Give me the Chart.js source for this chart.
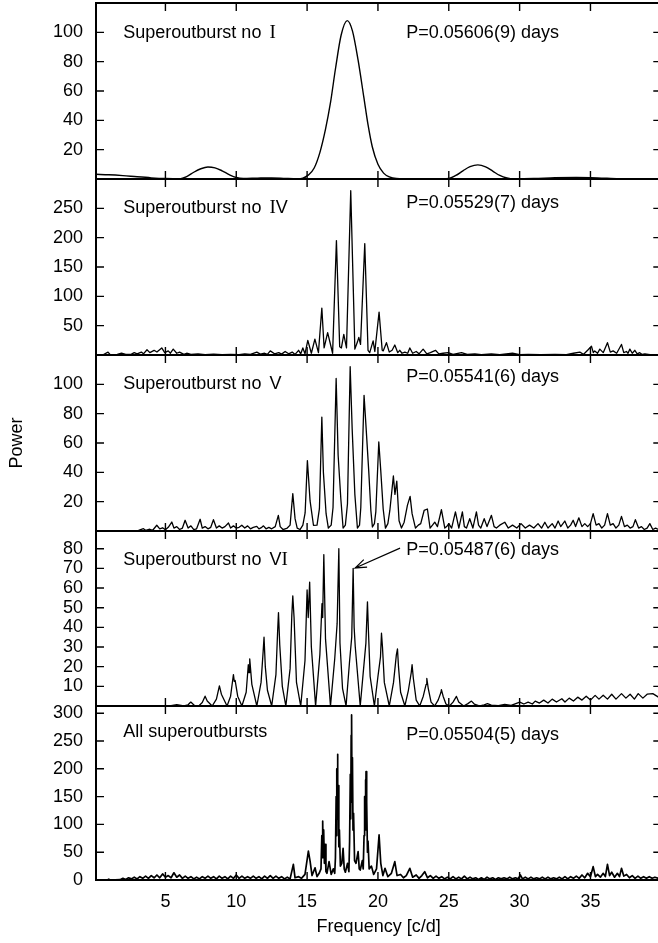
<!DOCTYPE html>
<html>
<head>
<meta charset="utf-8">
<script src="https://cdn.jsdelivr.net/npm/chart.js@4.4.1/dist/chart.umd.min.js"></script>
<style>
  html, body { margin:0; padding:0; background:#fff; width:658px; height:943px; overflow:hidden; }
  canvas { position:absolute; left:0; top:0; }
</style>
</head>
<body>
<canvas id="p1" width="664" height="943"></canvas>
<canvas id="p2" width="664" height="943"></canvas>
<canvas id="p3" width="664" height="943"></canvas>
<canvas id="p4" width="664" height="943"></canvas>
<canvas id="p5" width="664" height="943"></canvas>
<script>
// ---- values (frequency in c/d, power) ----
const freqI = [0.1,1.0,2.0,3.0,4.0,5.0,6.0,6.5,7.0,7.5,8.0,8.5,9.0,9.5,10.0,10.5,11.5,12.5,13.5,14.3,14.7,15.1,15.5,15.9,16.3,16.65,17.0,17.4,17.83,18.2,18.6,19.0,19.3,19.6,20.0,20.4,20.8,21.3,22.5,24.0,25.0,25.5,26.0,26.5,27.05,27.6,28.1,28.6,29.1,29.6,31.0,32.5,34.0,35.5,37.0,38.5,39.8];
const powI  = [3.2,2.9,2.3,1.5,0.8,0.3,0.1,1.6,4.6,7.0,8.2,7.6,5.6,3.0,1.0,0.3,0.6,0.8,0.4,0.2,0.6,2.8,7.5,18,34,52,75,98,108,101,81,56,37,22,10,4,1.4,0.3,0.1,0.1,0.3,2.4,5.6,8.4,9.6,8.3,5.4,2.4,0.7,0.1,0.3,0.9,1.1,0.8,0.2,0.1,0.1];

const freqIV = [0.1,0.6,0.95,1.1,1.6,1.9,2.2,2.6,2.8,3.0,3.3,3.45,3.7,3.9,4.2,4.4,4.74,4.95,5.2,5.35,5.55,5.8,6.0,6.3,6.5,6.8,7.3,7.8,8.4,9.0,9.6,10.2,10.6,11.0,11.45,11.7,12.0,12.2,12.4,12.7,13.0,13.2,13.45,13.7,13.95,14.15,14.4,14.55,14.7,14.85,15.05,15.3,15.55,15.8,16.04,16.2,16.45,16.8,17.07,17.3,17.42,17.59,17.78,18.08,18.37,18.55,18.65,18.77,19.07,19.3,19.42,19.66,19.78,20.08,20.3,20.37,20.6,20.8,21.0,21.19,21.4,21.54,21.7,21.9,22.1,22.25,22.45,22.7,22.9,23.19,23.45,23.7,24.06,24.3,24.6,24.95,25.3,25.9,26.3,26.84,27.3,28.0,28.6,29.5,30.0,30.6,31.5,32.5,33.3,33.8,34.25,34.5,34.8,35.07,35.2,35.3,35.5,35.66,35.9,36.2,36.4,36.6,36.85,37.19,37.35,37.54,37.65,37.78,37.95,38.13,38.3,38.48,38.65,38.84,39.2,39.8];
const powIV  = [0.5,0.5,5,0.5,1,3,1,1.5,4,2,5,2,9,4,8,5,12,4,7,3,10,3,5,1,3,1,2,0.5,1.5,0.5,1,0.5,2,1,5,1.5,3,1,7,2,4,1.5,6,2,5,1,8,2,12,2,25,3,27,4,80,12,38,3,195,14,12,35,12,280,10,22,30,18,190,8,4,24,6,73,8,7,21,5,8,17,4,8,3,5,3,12,3,6,2,10,2,4,8,2,3,4,1,4,1,2,0.5,2,0.5,3,0.5,1,0.5,1,0.5,3,5,1,8,15,4,7,3,10,4,21,5,7,3,18,4,6,3,10,3,8,2,4,1,2,0.5,0.5];

const freqV = [0.1,3.0,3.2,3.45,3.6,3.9,4.1,4.39,4.6,4.8,5.0,5.2,5.45,5.6,5.8,6.0,6.2,6.39,6.6,6.8,7.0,7.2,7.45,7.6,7.8,8.0,8.2,8.39,8.6,8.8,9.0,9.2,9.45,9.6,9.8,10.0,10.2,10.39,10.6,10.8,11.0,11.2,11.45,11.6,11.8,11.92,12.1,12.3,12.5,12.75,12.97,13.1,13.3,13.6,13.8,13.99,14.15,14.3,14.5,14.7,14.86,15.02,15.21,15.45,15.7,15.87,16.04,16.15,16.34,16.5,16.7,16.83,17.05,17.19,17.38,17.54,17.7,17.85,18.04,18.18,18.37,18.55,18.7,18.79,19.02,19.16,19.35,19.5,19.61,19.75,19.85,20.06,20.2,20.37,20.53,20.7,20.84,21.09,21.2,21.33,21.49,21.66,21.85,22.08,22.27,22.41,22.65,22.85,23.02,23.26,23.49,23.68,23.85,24.01,24.2,24.48,24.72,24.85,25.0,25.2,25.47,25.71,25.96,26.1,26.25,26.48,26.7,26.95,27.1,27.26,27.5,27.7,28.01,28.2,28.36,28.6,28.95,29.2,29.5,29.8,30.1,30.4,30.7,31.0,31.3,31.55,31.78,32.0,32.3,32.5,32.72,32.9,33.19,33.4,33.6,33.78,33.95,34.18,34.4,34.6,34.8,35.0,35.19,35.4,35.6,35.8,36.0,36.2,36.4,36.6,36.8,37.0,37.19,37.4,37.6,37.8,38.0,38.17,38.4,38.6,38.8,39.0,39.19,39.4,39.6,39.8];
const powV  = [0,0,0.8,1.6,0.5,1.2,0.5,3.9,1.5,2.2,0.8,2.5,6.1,2,3,1,2,7.3,2,3.5,1,1.5,8,2,3,1.5,2.5,7.7,2,3.5,2,3,5.5,2,3.5,2,2.5,3.9,2,3.5,1.5,2.5,3.2,1.5,2.5,3.5,1.5,2.5,1.5,3,10.7,3,1,2,4,25.5,8.4,2,1,4,12.3,48,20.5,3.9,4,15.2,77.7,40,11.8,2,4,16,104,51.6,22,2,4,18.6,112,69.8,25,2,4,16,92.5,71,41,14,2.7,5,13,60.7,41,15,2,5,14,37.5,25,34,7,2,6,17.5,23.6,11.8,2,4,5,14,15,2,4,6,3,14.5,2,3,5,2,13,2,13,3,2,8.4,2,13,4,2,8.4,3,10.7,3,2,4,6,2,4,2,5,2,4,2,5,2,6,2,5,2,6.8,3,6.8,2,4,7.3,3,9,3,5,3,5,11.8,4,5,2,4,11.8,4,5,2,4,10,3,4,2,3,7.7,2,3,1,2,5,1,2,1];

const freqVI = [0.1,5.3,5.8,6.3,6.6,6.79,7.05,7.35,7.6,7.8,7.95,8.3,8.6,8.81,8.95,9.35,9.6,9.8,9.86,9.92,10.1,10.4,10.7,10.85,10.9,10.95,11.1,11.45,11.75,11.9,11.96,12.05,12.2,12.5,12.8,12.92,12.98,13.07,13.25,13.5,13.8,13.92,13.99,14.08,14.25,14.55,14.85,15.0,15.08,15.18,15.3,15.6,15.9,16.05,16.1,16.18,16.3,16.65,16.95,17.12,17.24,17.32,17.5,17.75,18.0,18.15,18.25,18.32,18.4,18.75,19.0,19.15,19.26,19.33,19.45,19.75,20.0,20.18,20.25,20.32,20.45,20.8,21.1,21.3,21.38,21.45,21.6,21.9,22.15,22.35,22.41,22.5,22.7,22.95,23.2,23.4,23.45,23.55,23.75,24.0,24.25,24.45,24.48,24.6,24.8,25.05,25.3,25.54,25.7,26.05,26.35,26.6,26.8,27.2,27.5,27.73,28.0,28.5,28.95,29.4,30.01,30.3,30.6,30.9,31.1,31.4,31.7,32.0,32.3,32.6,32.98,33.2,33.5,33.8,34.1,34.4,34.7,35.0,35.33,35.6,35.9,36.2,36.5,36.8,37.19,37.5,37.8,38.1,38.37,38.7,39.0,39.4,39.8];
const powVI  = [0,0,0.7,0,0.6,2,0.3,0,1.8,5,2.5,0,3.5,10.2,6,0,5,16,12.5,13,5,0,7,21,17,24,11,0,12,28,35,20,8,0,16,38,47.5,31,10,0,19,46,56,45,12,0,23,59,45,63,30,0,26,52,45,77,34,0,24,42,80,32,9,0,23,35,70,40,30,0,20,32,53,38,15,0,15,25,37,30,12,0,12,26,29,20,7,0,8,17,21,14,3,0,5,11,14,9,2,0,3,7,8.3,5,1,0,2,4.9,2,0,1.2,2.5,1,0,0.6,1.2,0.4,0.2,0.8,0.3,2,1,2,1,2.5,1.5,3,1.5,3.5,2,3.7,2,4,2.5,4.5,3,5,3,5.4,3.5,5.5,3.5,6,3.5,6.3,4,6,3.5,6.3,4,6,6.3,4.5];

const freqAll = [0.1,0.9,1.0,1.1,1.8,2.0,2.2,2.4,2.6,2.8,3.0,3.2,3.4,3.6,3.8,4.0,4.2,4.4,4.6,4.8,5.0,5.2,5.4,5.6,5.8,6.0,6.2,6.4,6.6,6.8,7.0,7.2,7.4,7.6,7.8,8.0,8.2,8.4,8.6,8.8,9.0,9.2,9.4,9.6,9.8,10.0,10.2,10.4,10.6,10.8,11.0,11.2,11.4,11.6,11.8,12.0,12.2,12.4,12.6,12.8,13.0,13.2,13.4,13.6,13.8,14.03,14.15,14.4,14.6,14.85,15.09,15.21,15.35,15.56,15.7,15.85,15.98,16.04,16.07,16.1,16.13,16.17,16.22,16.27,16.33,16.4,16.55,16.7,16.85,16.95,17.0,17.05,17.08,17.11,17.13,17.15,17.17,17.2,17.24,17.28,17.35,17.45,17.54,17.62,17.7,17.85,17.95,18.0,18.05,18.08,18.11,18.13,18.15,18.17,18.2,18.24,18.28,18.35,18.45,18.6,18.68,18.75,18.9,18.96,19.02,19.06,19.09,19.12,19.14,19.16,19.19,19.22,19.26,19.3,19.38,19.54,19.7,19.9,20.08,20.2,20.35,20.5,20.7,20.95,21.19,21.35,21.6,21.8,22.0,22.25,22.45,22.7,22.9,23.1,23.3,23.5,23.7,23.9,24.1,24.3,24.5,24.7,24.9,25.1,25.3,25.5,25.7,25.9,26.1,26.3,26.5,26.7,26.9,27.1,27.3,27.5,27.7,27.9,28.1,28.3,28.5,28.7,28.9,29.1,29.3,29.5,29.7,29.9,30.05,30.2,30.4,30.6,30.8,31.0,31.2,31.4,31.6,31.8,32.0,32.2,32.4,32.6,32.8,33.0,33.2,33.4,33.6,33.8,34.0,34.2,34.4,34.6,34.8,35.0,35.19,35.35,35.5,35.7,35.9,36.05,36.2,36.35,36.5,36.7,36.9,37.05,37.19,37.35,37.55,37.75,37.95,38.15,38.35,38.55,38.75,38.95,39.15,39.35,39.55,39.8];
const powAll  = [0,0,1.5,0,0.5,3,1,4,2,5,2,6,3,7,3,8,4,9,4,11,5,8,4,13,5,9,3,7,3,6,2,5,2,6,3,7,3,6,2,7,3,6,2,7,3,9,3,7,3,6,3,7,3,6,2,7,3,8,3,7,3,6,2,5,2,28,4,6,3,10,52,34,8,22,6,12,20,80,40,106,50,90,30,64,15,12,33,10,20,12,40,150,80,200,120,226,110,170,60,90,25,30,57,20,14,30,15,70,190,110,260,150,297,140,220,90,120,35,30,51,20,18,35,20,80,150,90,180,110,195,100,140,50,70,20,25,10,20,81,30,8,21,6,12,33,8,10,4,8,21,5,9,3,8,15,4,8,3,7,3,6,2,5,2,6,2,5,2,7,2,5,2,4,1,4,1,5,2,4,1,4,2,4,2,5,2,4,2,9,2,5,2,5,2,4,2,5,2,5,2,4,2,5,2,6,2,6,3,7,3,9,4,12,6,24,6,10,5,12,6,28,8,14,5,12,6,21,7,10,4,8,3,7,3,6,3,6,3,5,3];

// ---- axis ticks and texts ----
const xTicks = [5, 10, 15, 20, 25, 30, 35];
const yTicksI = [20, 40, 60, 80, 100];
const yTicksIV = [50, 100, 150, 200, 250];
const yTicksV = [20, 40, 60, 80, 100];
const yTicksVI = [10, 20, 30, 40, 50, 60, 70, 80];
const yTicksAll = [0, 50, 100, 150, 200, 250, 300];
const panelNames = ['Superoutburst no I', 'Superoutburst no IV', 'Superoutburst no V', 'Superoutburst no VI', 'All superoutbursts'];
const periods = ['P=0.05606(9) days', 'P=0.05529(7) days', 'P=0.05541(6) days', 'P=0.05487(6) days', 'P=0.05504(5) days'];
const arrowFrom = [21.56, 80.3];
const arrowTo = [18.39, 70.2];

// layout: pixel rows of each panel, y range, text baselines
const boxes = [[3,179],[179,355],[355,531],[531,706],[706,880]];
const yMax = [120, 300, 120, 89, 313];
const nameDy = [35.3, 34.3, 34.3, 34, 30.7];
const perDy = [35.3, 29.3, 26.7, 24, 34];

const SANS = "'Liberation Sans', Arial, Helvetica, sans-serif";
const SERIF = "'Liberation Serif', 'Times New Roman', serif";
Chart.defaults.font.family = SANS;
Chart.defaults.font.size = 18;
Chart.defaults.color = '#000';

function drawName(ctx, text, x, y){
  const i = text.indexOf(' no ');
  const head = i < 0 ? text : text.slice(0, i + 4);
  const tail = i < 0 ? '' : text.slice(i + 4);
  ctx.font = '18px ' + SANS;
  ctx.fillText(head, x, y);
  x += ctx.measureText(head).width + 3;
  for (const ch of tail){
    ctx.font = (ch === 'I' ? '19px ' + SERIF : '18px ' + SANS);
    ctx.fillText(ch, x, y);
    x += ctx.measureText(ch).width;
  }
}

const framePlugin = {
  id: 'frame',
  afterDatasetsDraw(chart, args, o){
    const {ctx, chartArea: a, scales: {x, y}} = chart;
    ctx.save();
    ctx.strokeStyle = '#000';
    ctx.fillStyle = '#000';
    ctx.lineWidth = 1.4;
    ctx.beginPath();
    xTicks.forEach(v => {
      const px = x.getPixelForValue(v);
      ctx.moveTo(px, a.bottom); ctx.lineTo(px, a.bottom - 8);
      ctx.moveTo(px, a.top); ctx.lineTo(px, a.top + 8);
    });
    o.yTicks.forEach(v => {
      const py = y.getPixelForValue(v);
      ctx.moveTo(a.left, py); ctx.lineTo(a.left + 8, py);
      ctx.moveTo(a.right, py); ctx.lineTo(a.right - 8, py);
    });
    ctx.stroke();
    ctx.lineWidth = 2;
    ctx.strokeRect(a.left, a.top, a.right - a.left, a.bottom - a.top);

    ctx.textBaseline = 'alphabetic';
    ctx.textAlign = 'left';
    drawName(ctx, panelNames[o.idx], a.left + 27.3, a.top + nameDy[o.idx]);
    ctx.font = '18px ' + SANS;
    ctx.fillText(periods[o.idx], a.left + 310.3, a.top + perDy[o.idx]);

    if (o.arrow){
      const x0 = x.getPixelForValue(arrowFrom[0]), y0 = y.getPixelForValue(arrowFrom[1]);
      const x1 = x.getPixelForValue(arrowTo[0]), y1 = y.getPixelForValue(arrowTo[1]);
      const ang = Math.atan2(y1 - y0, x1 - x0);
      ctx.lineWidth = 1.2;
      ctx.beginPath();
      ctx.moveTo(x0, y0); ctx.lineTo(x1, y1);
      ctx.moveTo(x1 - 12 * Math.cos(ang - 0.35), y1 - 12 * Math.sin(ang - 0.35));
      ctx.lineTo(x1, y1);
      ctx.lineTo(x1 - 12 * Math.cos(ang + 0.35), y1 - 12 * Math.sin(ang + 0.35));
      ctx.stroke();
    }
    ctx.restore();
  }
};

function makePanel(id, idx, freq, pow, yTicks, lw, smooth){
  const last = idx === 4;
  const [top, bottom] = boxes[idx];
  return new Chart(document.getElementById(id), {
    type: 'line',
    data: {
      datasets: [{
        data: freq.map((f, i) => ({x: f, y: pow[i]})),
        borderColor: '#000',
        borderWidth: lw,
        pointRadius: 0,
        fill: false,
        cubicInterpolationMode: smooth ? 'monotone' : 'default',
        tension: 0,
        borderJoinStyle: 'round'
      }]
    },
    options: {
      responsive: false,
      animation: false,
      events: [],
      layout: {padding: {top: top, bottom: last ? 0 : 943 - bottom, left: 0, right: 2.7}},
      plugins: {
        legend: {display: false},
        tooltip: {enabled: false},
        frame: {idx: idx, yTicks: yTicks, arrow: idx === 3}
      },
      scales: {
        x: {
          type: 'linear', min: 0.1, max: 40,
          display: last,
          grid: {display: false, drawTicks: false},
          border: {display: false},
          afterBuildTicks: s => { s.ticks = xTicks.map(v => ({value: v})); },
          afterFit: s => { s.height = last ? 63 : 0; s.paddingLeft = 0; s.paddingRight = 0; },
          ticks: {padding: 11, font: {size: 18}, maxRotation: 0, autoSkip: false},
          title: {display: last, text: 'Frequency [c/d]', font: {size: 18}, padding: {top: 4, bottom: 5}}
        },
        y: {
          type: 'linear', min: 0, max: yMax[idx],
          grid: {display: false, drawTicks: false},
          border: {display: false},
          afterBuildTicks: s => { s.ticks = yTicks.map(v => ({value: v})); },
          afterFit: s => { s.width = 96; s.paddingTop = 0; s.paddingBottom = 0; },
          ticks: {padding: 13, font: {size: 18}, autoSkip: false},
          title: {display: idx === 2, text: 'Power', font: {size: 18}, padding: {top: 6, bottom: 4}}
        }
      }
    },
    plugins: [framePlugin]
  });
}

makePanel('p1', 0, freqI, powI, yTicksI, 1.4, true);
makePanel('p2', 1, freqIV, powIV, yTicksIV, 1.3, false);
makePanel('p3', 2, freqV, powV, yTicksV, 1.3, false);
makePanel('p4', 3, freqVI, powVI, yTicksVI, 1.3, false);
makePanel('p5', 4, freqAll, powAll, yTicksAll, 1.7, false);
</script>
</body>
</html>
